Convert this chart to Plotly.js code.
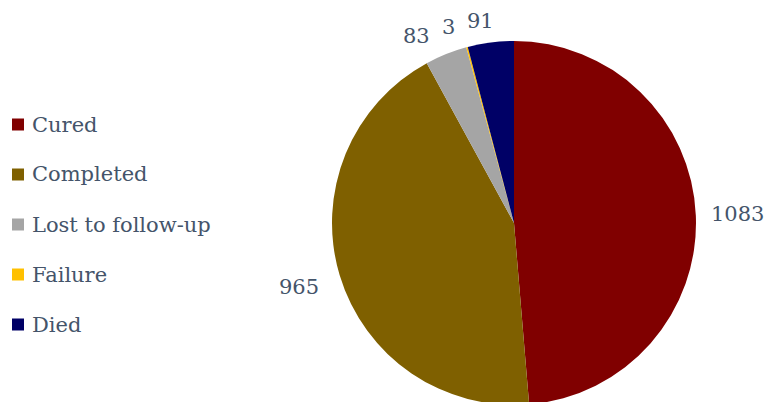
<!DOCTYPE html>
<html>
<head>
<meta charset="utf-8">
<script src="https://cdn.plot.ly/plotly-3.0.1.min.js"></script>
<style>
html,body{margin:0;padding:0;overflow:hidden;background:#fff;}
#chart{width:766px;height:410px;}
</style>
</head>
<body>
<div id="chart"></div>
<script>
// Data
const categories = ["Cured", "Completed", "Lost to follow-up", "Failure", "Died"];
const counts = [1083, 965, 83, 3, 91];
const sliceColors = ["#800000", "#7F6000", "#A5A5A5", "#FFC000", "#000066"];

const W = 766, H = 410;
const textColor = "#44546A";
const fontFam = "DejaVu Serif, Liberation Serif, serif";
const fontSize = 21;

// pie geometry (pixels)
const pieLeft = 332, pieRight = 696, pieTop = 41, pieBottom = 405;
const cx = (pieLeft + pieRight) / 2, cy = (pieTop + pieBottom) / 2;

const trace = {
  type: "pie",
  labels: categories,
  values: counts,
  sort: false,
  direction: "clockwise",
  rotation: 0,
  marker: {colors: sliceColors, line: {width: 0}},
  textinfo: "none",
  domain: {x: [pieLeft / W, pieRight / W], y: [1 - pieBottom / H, 1 - pieTop / H]},
  showlegend: false,
  hoverinfo: "label+value+percent"
};

const shapes = [];
const annotations = [];

// Data labels outside the pie, placed along each slice's mid-angle
const total = counts.reduce((a, b) => a + b, 0);
let cum = 0;
const lbls = counts.map((v) => {
  const midFrac = (cum + v / 2) / total;
  cum += v;
  const small = v / total < 0.05;
  const ang = (midFrac * 360 - (small ? 2 : 0)) * Math.PI / 180;
  const rad = small ? 205 : 224;
  return {
    v: v, small: small,
    x: cx + rad * Math.sin(ang),
    y: cy - rad * Math.cos(ang),
    w: String(v).length * 0.636 * fontSize
  };
});
// resolve horizontal crowding among the small labels (push leftwards)
const smallL = lbls.filter(l => l.small).sort((a, b) => b.x - a.x);
const minGap = 12;
for (let k = 1; k < smallL.length; k++) {
  const prev = smallL[k - 1], cur = smallL[k];
  const maxX = prev.x - prev.w / 2 - minGap - cur.w / 2;
  if (cur.x > maxX) cur.x = maxX;
}
lbls.forEach(l => {
  annotations.push({
    xref: "paper", yref: "paper", x: l.x / W, y: 1 - l.y / H,
    xanchor: "center", yanchor: "middle", showarrow: false,
    text: String(l.v), font: {family: fontFam, size: fontSize, color: textColor}
  });
});

// Legend drawn manually to reproduce the wide row spacing
categories.forEach((c, i) => {
  const ly = 124.5 + i * 50;
  shapes.push({
    type: "rect", xref: "paper", yref: "paper",
    x0: 12 / W, x1: 24 / W, y0: 1 - (ly + 6) / H, y1: 1 - (ly - 6) / H,
    fillcolor: sliceColors[i], line: {width: 0}
  });
  annotations.push({
    xref: "paper", yref: "paper", x: 30 / W, y: 1 - ly / H,
    xanchor: "left", yanchor: "middle", showarrow: false,
    text: c, font: {family: fontFam, size: fontSize, color: textColor}
  });
});

const layout = {
  width: W, height: H,
  margin: {l: 0, r: 0, t: 0, b: 0},
  paper_bgcolor: "#ffffff",
  plot_bgcolor: "#ffffff",
  showlegend: false,
  shapes: shapes,
  annotations: annotations
};

Plotly.newPlot("chart", [trace], layout, {displayModeBar: false, staticPlot: true});
</script>
</body>
</html>
